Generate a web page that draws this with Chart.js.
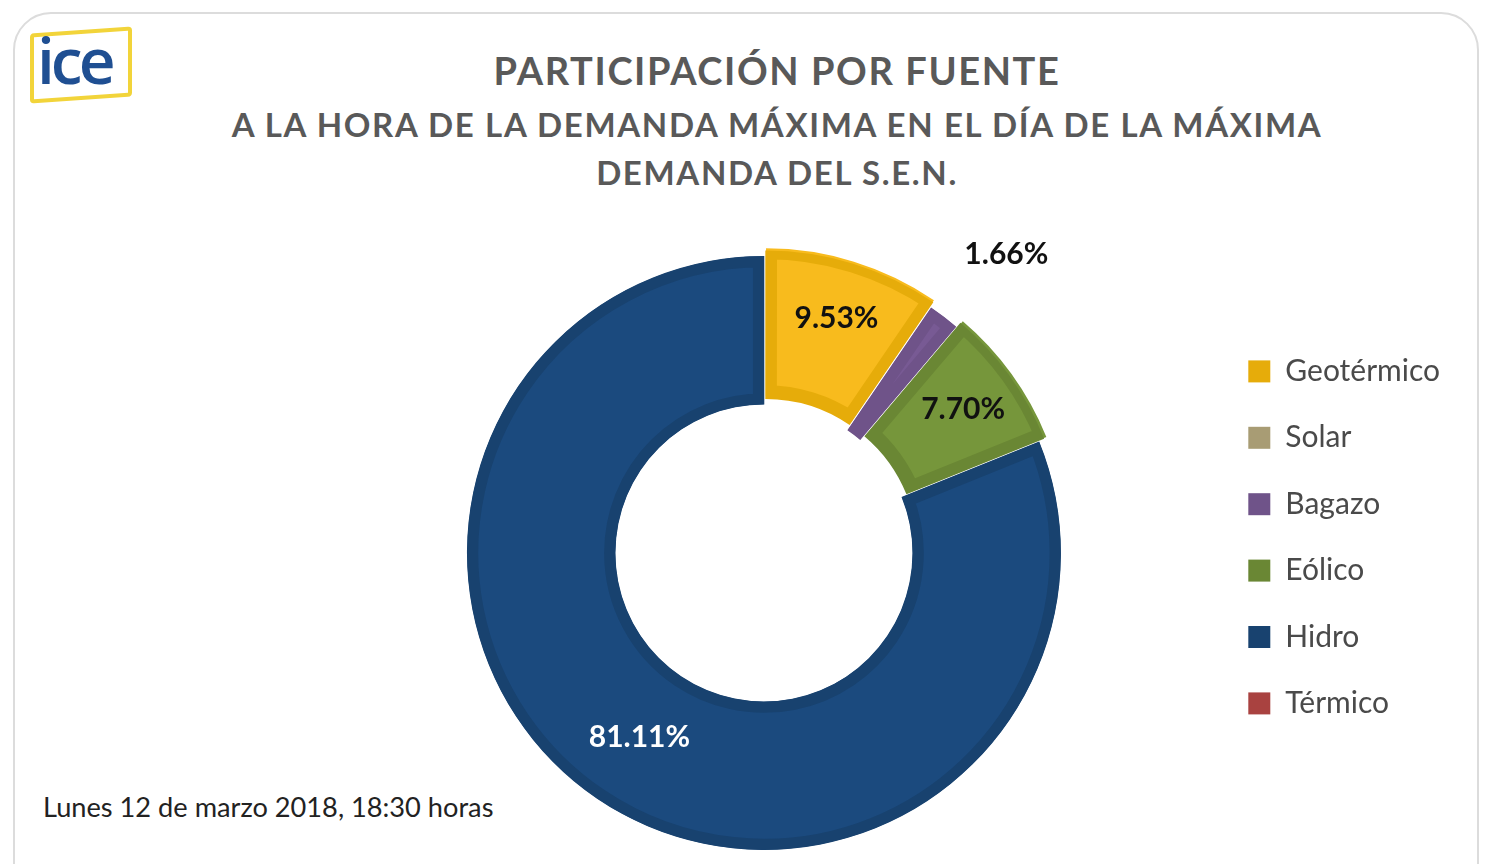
<!DOCTYPE html>
<html>
<head>
<meta charset="utf-8">
<script src="https://cdn.jsdelivr.net/npm/chart.js@4.4.1/dist/chart.umd.min.js"></script>
<style>
  html, body { margin: 0; padding: 0; background: #fff; overflow: hidden; }
  body { width: 1490px; height: 864px; position: relative; font-family: Lato, "Open Sans", sans-serif; }
  .card {
    position: absolute; left: 13px; top: 12px; width: 1466px; height: 920px;
    border: 2px solid #dcdcdc; border-radius: 38px; box-sizing: border-box;
  }
  .logo {
    position: absolute; left: 30px; top: 30px; width: 94px; height: 62px;
    border: 4px solid #f2d43a; border-radius: 4px; transform: skewY(-4deg);
  }
  .logo span {
    position: absolute; left: 3px; top: -18px; font-size: 64px; font-weight: 600; color: #1f4f92;
    letter-spacing: -4px; transform: skewY(4deg); font-family: "Open Sans", sans-serif;
  }
  .titles { position: absolute; left: 0; width: 1554px; text-align: center; color: #595959; font-weight: bold; }
  #title { top: 48px; font-size: 38px; line-height: 44px; letter-spacing: 1.6px; }
  #subtitle { top: 100px; font-size: 33px; line-height: 48px; letter-spacing: 1.65px; }
  #note { position: absolute; left: 43px; top: 790px; font-size: 27.2px; line-height: 34px; color: #222; }
  .chart-box { position: absolute; left: 0; top: 0; width: 1490px; height: 864px; }
</style>
</head>
<body>
<div class="card"></div>
<div class="logo"><span>ice</span></div>
<div class="titles" id="title">PARTICIPACIÓN POR FUENTE</div>
<div class="titles" id="subtitle">A LA HORA DE LA DEMANDA MÁXIMA EN EL DÍA DE LA MÁXIMA<br>DEMANDA DEL S.E.N.</div>
<div id="note">Lunes 12 de marzo 2018, 18:30 horas</div>
<div class="chart-box"><canvas id="donut"></canvas></div>

<script>
// participacion (%) por fuente
const fuentes = ['Geotérmico', 'Solar', 'Bagazo', 'Eólico', 'Hidro', 'Térmico']
const participacion = [9.53, 0, 1.66, 7.70, 81.11, 0]
const separadas = ['Geotérmico', 'Eólico']

const colores = ['#f8bb1d', '#b0a57f', '#785a94', '#76963b', '#1b4a7e', '#be4b48']
const bordes = ['#e6ac0a', '#a89c74', '#6f5389', '#6a8734', '#18426f', '#a94240']

function isDark(hex) {
  const n = parseInt(hex.slice(1), 16)
  const r = n >> 16, g = (n >> 8) & 255, b = n & 255
  return (0.299 * r + 0.587 * g + 0.114 * b) < 110
}

// etiquetas de porcentaje sobre cada porcion
const pctLabels = {
  id: 'pctLabels',
  afterDatasetsDraw(chart) {
    const ctx = chart.ctx
    const meta = chart.getDatasetMeta(0)
    ctx.save()
    ctx.font = 'bold 30px Lato, sans-serif'
    ctx.textAlign = 'center'
    ctx.textBaseline = 'middle'
    meta.data.forEach((arc, i) => {
      const v = participacion[i]
      if (!v) return
      const p = arc.getProps(['x', 'y', 'startAngle', 'endAngle', 'innerRadius', 'outerRadius'], true)
      let mid = (p.startAngle + p.endAngle) / 2
      const off = arc.options.offset || 0
      let r, color
      if (v < 3) {
        // porcion pequena: etiqueta afuera
        r = p.outerRadius + 88
        mid += 0.03
        color = '#111'
      } else {
        r = (p.innerRadius + p.outerRadius) / 2 + off
        color = isDark(colores[i]) ? '#fff' : '#111'
      }
      ctx.fillStyle = color
      ctx.fillText(v.toFixed(2) + '%', p.x + Math.cos(mid) * r, p.y + Math.sin(mid) * r)
    })
    ctx.restore()
  }
}

const ctx = document.getElementById('donut')

new Chart(ctx, {
  type: 'doughnut',
  data: {
    labels: fuentes,
    datasets: [{
      data: participacion,
      backgroundColor: colores,
      borderColor: bordes,
      borderWidth: c => participacion[c.dataIndex] > 0 ? 11 : 0,
      borderAlign: 'inner',
      offset: c => separadas.includes(fuentes[c.dataIndex]) ? 23 : 0,
      hoverOffset: 0,
      clip: false
    }]
  },
  options: {
    responsive: true,
    maintainAspectRatio: false,
    animation: false,
    radius: 297,
    cutout: '50%',
    layout: { padding: { top: 320, bottom: 78, left: 316, right: 40 } },
    plugins: {
      tooltip: { enabled: false },
      legend: {
        position: 'right',
        align: 'start',
        labels: {
          boxWidth: 22,
          boxHeight: 22,
          padding: 36.4,
          color: '#4a4a4a',
          font: { family: 'Lato, sans-serif', size: 30 },
          generateLabels(chart) {
            const items = Chart.overrides.doughnut.plugins.legend.labels.generateLabels(chart)
            items.forEach((it, i) => {
              it.fillStyle = bordes[i]
              it.lineWidth = 0
              it.hidden = false
            })
            return items
          }
        }
      }
    }
  },
  plugins: [pctLabels]
})
</script>
</body>
</html>
